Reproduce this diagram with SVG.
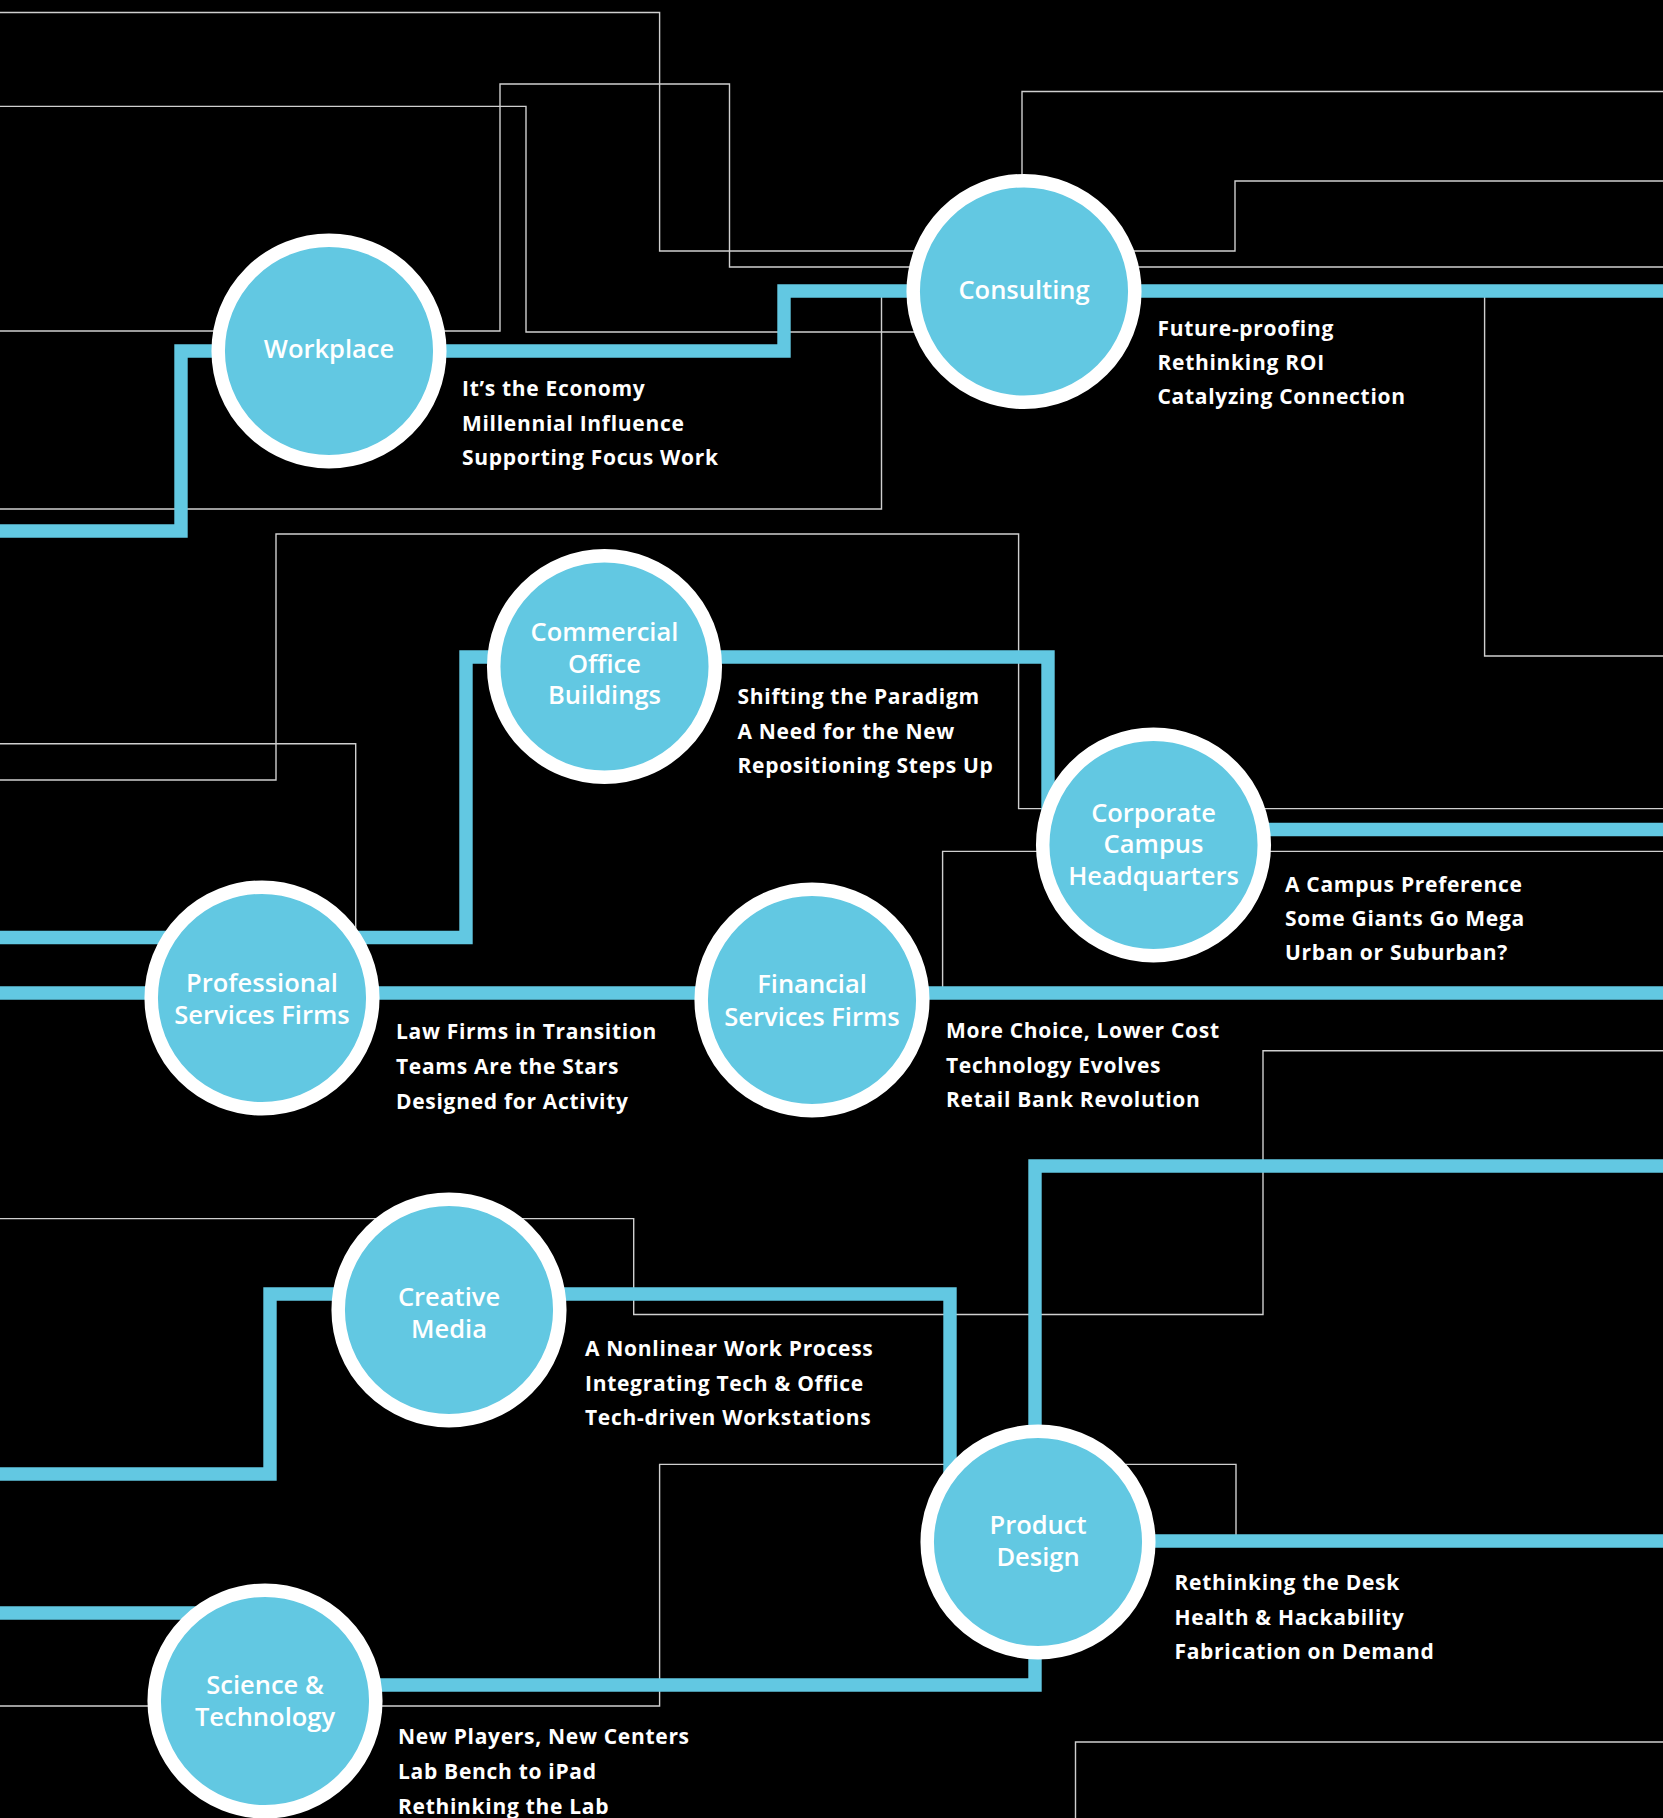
<svg xmlns="http://www.w3.org/2000/svg" width="1663" height="1818" viewBox="0 0 1663 1818">
<style>
.thin{fill:none;stroke:#cfcfcf;stroke-width:1.4}
.thick{fill:none;stroke:#62c8e2;stroke-width:13.4;stroke-linejoin:miter;stroke-linecap:butt}
.node{fill:#62c8e2;stroke:#ffffff;stroke-width:13.5}
.lbl{font-family:"Open Sans","Noto Sans",sans-serif;font-weight:600;font-size:25.5px;fill:#ffffff;text-anchor:middle}
.itm{font-family:"Open Sans","Noto Sans",sans-serif;font-weight:700;font-size:21px;fill:#ffffff;letter-spacing:0.7px}
</style>
<rect x="0" y="0" width="1663" height="1818" fill="#000000"/>
<g id="connectors">
  <g id="thin-lines">
    <path class="thin" d="M0,12.5 H659.6 V251 H1235 V181 H1663"/>
    <path class="thin" d="M0,331 H500 V84 H729.5 V267 H1663"/>
    <path class="thin" d="M0,106.4 H526 V332 H1000"/>
    <path class="thin" d="M0,509 H881.5 V291"/>
    <path class="thin" d="M1022,200 V91.5 H1663"/>
    <path class="thin" d="M1484.6,291 V656 H1663"/>
    <path class="thin" d="M0,780 H276 V534 H1018.6 V808.6 H1663"/>
    <path class="thin" d="M0,743.7 H355.7 V960"/>
    <path class="thin" d="M942.6,993 V851.4 H1663"/>
    <path class="thin" d="M0,1218.6 H633.7 V1314.5 H1263 V1050.7 H1663"/>
    <path class="thin" d="M0,1706 H659.6 V1464.4 H1236 V1541"/>
    <path class="thin" d="M1663,1742 H1075.5 V1818"/>
  </g>
  <g id="thick-lines">
    <path class="thick" d="M0,531 H181 V351 H784 V291 H1663"/>
    <path class="thick" d="M0,937.5 H466 V657 H1048 V829.5 H1663"/>
    <path class="thick" d="M0,993 H1663"/>
    <path class="thick" d="M0,1474 H270 V1294 H950 V1541"/>
    <path class="thick" d="M1035,1542 V1166 H1663"/>
    <path class="thick" d="M1038,1541 H1663"/>
    <path class="thick" d="M264,1685 H1035 V1542"/>
    <path class="thick" d="M0,1613 H265"/>
  </g>
</g>
<g id="node-workplace">
  <circle class="node" cx="329" cy="351" r="110.8"/>
  <text class="lbl" x="329" y="358">Workplace</text>
  <text class="itm" x="462" y="396">It’s the Economy</text>
  <text class="itm" x="462" y="430.5">Millennial Influence</text>
  <text class="itm" x="462" y="465">Supporting Focus Work</text>
</g>
<g id="node-consulting">
  <circle class="node" cx="1024" cy="291.5" r="110.8"/>
  <text class="lbl" x="1024" y="299">Consulting</text>
  <text class="itm" x="1157.5" y="335.5">Future-proofing</text>
  <text class="itm" x="1157.5" y="369.5">Rethinking ROI</text>
  <text class="itm" x="1157.5" y="404">Catalyzing Connection</text>
</g>
<g id="node-commercial">
  <circle class="node" cx="604.5" cy="666.5" r="110.8"/>
  <text class="lbl" x="604.5" y="641">Commercial</text>
  <text class="lbl" x="604.5" y="672.5">Office</text>
  <text class="lbl" x="604.5" y="704">Buildings</text>
  <text class="itm" x="737.5" y="704">Shifting the Paradigm</text>
  <text class="itm" x="737.5" y="738.5">A Need for the New</text>
  <text class="itm" x="737.5" y="773">Repositioning Steps Up</text>
</g>
<g id="node-corporate">
  <circle class="node" cx="1153.5" cy="845" r="110.8"/>
  <text class="lbl" x="1153.5" y="821.5">Corporate</text>
  <text class="lbl" x="1153.5" y="853">Campus</text>
  <text class="lbl" x="1153.5" y="884.5">Headquarters</text>
  <text class="itm" x="1285" y="891.7">A Campus Preference</text>
  <text class="itm" x="1285" y="926">Some Giants Go Mega</text>
  <text class="itm" x="1285" y="960">Urban or Suburban?</text>
</g>
<g id="node-professional">
  <circle class="node" cx="262" cy="998" r="110.8"/>
  <text class="lbl" x="262" y="991.5">Professional</text>
  <text class="lbl" x="262" y="1023.5">Services Firms</text>
  <text class="itm" x="396" y="1039">Law Firms in Transition</text>
  <text class="itm" x="396" y="1074">Teams Are the Stars</text>
  <text class="itm" x="396" y="1108.5">Designed for Activity</text>
</g>
<g id="node-financial">
  <circle class="node" cx="812" cy="1000" r="110.8"/>
  <text class="lbl" x="812" y="993">Financial</text>
  <text class="lbl" x="812" y="1025.5">Services Firms</text>
  <text class="itm" x="946" y="1037.8">More Choice, Lower Cost</text>
  <text class="itm" x="946" y="1072.6">Technology Evolves</text>
  <text class="itm" x="946" y="1107.4">Retail Bank Revolution</text>
</g>
<g id="node-creative">
  <circle class="node" cx="449" cy="1310" r="110.8"/>
  <text class="lbl" x="449" y="1305.5">Creative</text>
  <text class="lbl" x="449" y="1338">Media</text>
  <text class="itm" x="585" y="1356">A Nonlinear Work Process</text>
  <text class="itm" x="585" y="1390.5">Integrating Tech &amp; Office</text>
  <text class="itm" x="585" y="1425">Tech-driven Workstations</text>
</g>
<g id="node-product">
  <circle class="node" cx="1038" cy="1542" r="110.8"/>
  <text class="lbl" x="1038" y="1533.5">Product</text>
  <text class="lbl" x="1038" y="1565.5">Design</text>
  <text class="itm" x="1174.5" y="1590">Rethinking the Desk</text>
  <text class="itm" x="1174.5" y="1624.6">Health &amp; Hackability</text>
  <text class="itm" x="1174.5" y="1659.4">Fabrication on Demand</text>
</g>
<g id="node-science">
  <circle class="node" cx="265" cy="1701" r="110.8"/>
  <text class="lbl" x="265" y="1694">Science &amp;</text>
  <text class="lbl" x="265" y="1726">Technology</text>
  <text class="itm" x="398" y="1744">New Players, New Centers</text>
  <text class="itm" x="398" y="1778.8">Lab Bench to iPad</text>
  <text class="itm" x="398" y="1813.6">Rethinking the Lab</text>
</g>
</svg>
